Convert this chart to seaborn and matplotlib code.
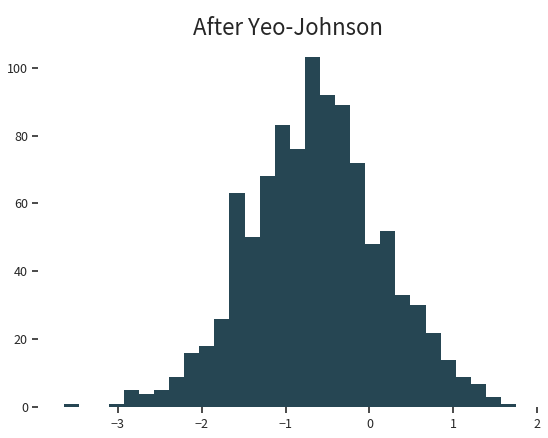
import numpy as np
import pandas as pd
import matplotlib
matplotlib.use("Agg")
import matplotlib.pyplot as plt
import seaborn as sns

bin_start = -3.65
bin_end = 1.75
n_bins = 30
counts = [1, 0, 0, 1, 5, 4, 5, 9, 16, 18, 26, 63, 50, 68, 83, 76, 103, 92, 89, 72,
          48, 52, 33, 30, 22, 14, 9, 7, 3, 1]
title = "After Yeo-Johnson"

sns.set_theme(style="white")
plt.rcParams['font.family'] = ['Noto Sans CJK JP', 'DejaVu Sans']

edges = np.linspace(bin_start, bin_end, n_bins + 1)
centers = (edges[:-1] + edges[1:]) / 2
df = pd.DataFrame({"value": centers, "count": counts})

fig, ax = plt.subplots(figsize=(5.48, 4.38), dpi=100)
sns.histplot(data=df, x="value", weights="count", bins=[float(e) for e in edges],
             color="#264653", alpha=1, edgecolor="none", linewidth=0, ax=ax)
ax.set_title(title, fontsize=16)
ax.set_xlabel("")
ax.set_ylabel("")
ax.set_xticks([-3, -2, -1, 0, 1, 2])
ax.set_yticks([0, 20, 40, 60, 80, 100])
ax.set_xlim(-3.95, 2.0)
ax.set_ylim(0, 107)
for s in ax.spines.values():
    s.set_visible(False)
ax.tick_params(axis="both", which="both", bottom=True, left=True, length=4, labelsize=9, color="#333333")
fig.subplots_adjust(left=0.07, right=0.98, top=0.9, bottom=0.07)
fig.savefig("out.png", dpi=100)
